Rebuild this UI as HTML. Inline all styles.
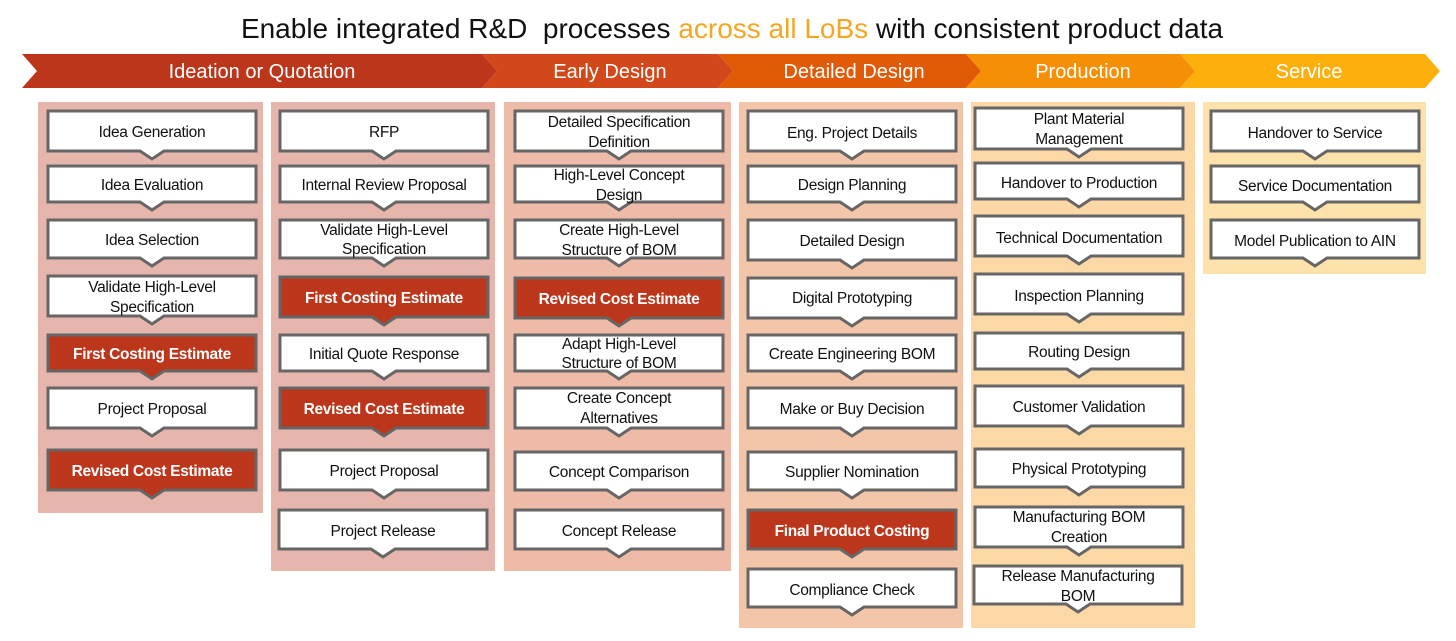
<!DOCTYPE html>
<html><head><meta charset="utf-8"><style>
html,body{margin:0;padding:0;background:#fff;width:1456px;height:641px;overflow:hidden}
svg{display:block}
text{font-family:"Liberation Sans",Arial,sans-serif}
.b{fill:#fff;stroke:#666;stroke-width:3}
.r{fill:#bb361b;stroke:#666;stroke-width:3}
.t{font-size:15.5px;fill:#111;text-anchor:middle;letter-spacing:-0.3px}
.w{font-size:15.5px;fill:#fff;font-weight:bold;text-anchor:middle;letter-spacing:-0.3px}
.h{font-size:20px;fill:#fff;text-anchor:middle}
</style></head><body>
<svg width="1456" height="641" viewBox="0 0 1456 641">
<text x="732" y="38" font-size="28" text-anchor="middle" fill="#111">Enable integrated R&amp;D&#160; processes <tspan fill="#f5a623">across all LoBs</tspan> with consistent product data</text>
<!-- banner -->
<polygon points="22,54 482,54 497,71 482,88 22,88 37,71" fill="#bb361b"/>
<polygon points="482,54 718,54 733,71 718,88 482,88 497,71" fill="#d2481a"/>
<polygon points="718,54 966,54 981,71 966,88 718,88 733,71" fill="#e15a07"/>
<polygon points="966,54 1180,54 1195,71 1180,88 966,88 981,71" fill="#f58f06"/>
<polygon points="1180,54 1425,54 1440,71 1425,88 1180,88 1195,71" fill="#fdb00c"/>
<text class="h" x="262" y="78">Ideation or Quotation</text>
<text class="h" x="610" y="78">Early Design</text>
<text class="h" x="854" y="78">Detailed Design</text>
<text class="h" x="1083" y="78">Production</text>
<text class="h" x="1309" y="78">Service</text>
<!-- panels -->
<rect x="38" y="102" width="225" height="411" fill="#e6b6ad"/>
<rect x="271" y="102" width="224" height="469" fill="#e6b6ad"/>
<rect x="504" y="102" width="227" height="469" fill="#eebba8"/>
<rect x="739" y="102" width="224" height="526" fill="#f4c6a9"/>
<rect x="971" y="102" width="224" height="526" fill="#fcd8a7"/>
<rect x="1203" y="102" width="223" height="172" fill="#fde2ac"/>

<!-- col1 -->
<path class="b" d="M48,111 h208 v40 h-92 l-12,8 l-12,-8 h-92 z"/><text class="t" x="152" y="137">Idea Generation</text>
<path class="b" d="M48,166 h208 v36 h-92 l-12,8 l-12,-8 h-92 z"/><text class="t" x="152" y="190">Idea Evaluation</text>
<path class="b" d="M48,220 h208 v38 h-92 l-12,8 l-12,-8 h-92 z"/><text class="t" x="152" y="245">Idea Selection</text>
<path class="b" d="M48,276 h208 v40 h-92 l-12,8 l-12,-8 h-92 z"/><text class="t" x="152" y="292">Validate High-Level</text><text class="t" x="152" y="312">Specification</text>
<path class="r" d="M48,335 h208 v36 h-92 l-12,8 l-12,-8 h-92 z"/><text class="w" x="152" y="359">First Costing Estimate</text>
<path class="b" d="M48,388 h208 v40 h-92 l-12,8 l-12,-8 h-92 z"/><text class="t" x="152" y="414">Project Proposal</text>
<path class="r" d="M48,450 h208 v40 h-92 l-12,8 l-12,-8 h-92 z"/><text class="w" x="152" y="476">Revised Cost Estimate</text>

<!-- col2 -->
<path class="b" d="M280,111 h208 v40 h-92 l-12,8 l-12,-8 h-92 z"/><text class="t" x="384" y="137">RFP</text>
<path class="b" d="M280,166 h208 v36 h-92 l-12,8 l-12,-8 h-92 z"/><text class="t" x="384" y="190">Internal Review Proposal</text>
<path class="b" d="M280,220 h208 v38 h-92 l-12,8 l-12,-8 h-92 z"/><text class="t" x="384" y="235">Validate High-Level</text><text class="t" x="384" y="254">Specification</text>
<path class="r" d="M280,277 h208 v40 h-92 l-12,8 l-12,-8 h-92 z"/><text class="w" x="384" y="303">First Costing Estimate</text>
<path class="b" d="M280,335 h208 v36 h-92 l-12,8 l-12,-8 h-92 z"/><text class="t" x="384" y="359">Initial Quote Response</text>
<path class="r" d="M280,388 h208 v40 h-92 l-12,8 l-12,-8 h-92 z"/><text class="w" x="384" y="414">Revised Cost Estimate</text>
<path class="b" d="M280,450 h208 v40 h-92 l-12,8 l-12,-8 h-92 z"/><text class="t" x="384" y="476">Project Proposal</text>
<path class="b" d="M279,510 h208 v39 h-92 l-12,8 l-12,-8 h-92 z"/><text class="t" x="383" y="536">Project Release</text>

<!-- col3 -->
<path class="b" d="M515,111 h208 v40 h-92 l-12,8 l-12,-8 h-92 z"/><text class="t" x="619" y="127">Detailed Specification</text><text class="t" x="619" y="147">Definition</text>
<path class="b" d="M515,166 h208 v36 h-92 l-12,8 l-12,-8 h-92 z"/><text class="t" x="619" y="180">High-Level Concept</text><text class="t" x="619" y="200">Design</text>
<path class="b" d="M515,220 h208 v38 h-92 l-12,8 l-12,-8 h-92 z"/><text class="t" x="619" y="235">Create High-Level</text><text class="t" x="619" y="255">Structure of BOM</text>
<path class="r" d="M515,278 h208 v40 h-92 l-12,8 l-12,-8 h-92 z"/><text class="w" x="619" y="304">Revised Cost Estimate</text>
<path class="b" d="M515,335 h208 v36 h-92 l-12,8 l-12,-8 h-92 z"/><text class="t" x="619" y="349">Adapt High-Level</text><text class="t" x="619" y="368">Structure of BOM</text>
<path class="b" d="M515,388 h208 v40 h-92 l-12,8 l-12,-8 h-92 z"/><text class="t" x="619" y="403">Create Concept</text><text class="t" x="619" y="423">Alternatives</text>
<path class="b" d="M515,452 h208 v38 h-92 l-12,8 l-12,-8 h-92 z"/><text class="t" x="619" y="477">Concept Comparison</text>
<path class="b" d="M515,510 h208 v39 h-92 l-12,8 l-12,-8 h-92 z"/><text class="t" x="619" y="536">Concept Release</text>

<!-- col4 -->
<path class="b" d="M748,111 h208 v40 h-92 l-12,8 l-12,-8 h-92 z"/><text class="t" x="852" y="138">Eng. Project Details</text>
<path class="b" d="M748,166 h208 v36 h-92 l-12,8 l-12,-8 h-92 z"/><text class="t" x="852" y="190">Design Planning</text>
<path class="b" d="M748,220 h208 v40 h-92 l-12,8 l-12,-8 h-92 z"/><text class="t" x="852" y="246">Detailed Design</text>
<path class="b" d="M748,278 h208 v40 h-92 l-12,8 l-12,-8 h-92 z"/><text class="t" x="852" y="303">Digital Prototyping</text>
<path class="b" d="M748,335 h208 v36 h-92 l-12,8 l-12,-8 h-92 z"/><text class="t" x="852" y="359">Create Engineering BOM</text>
<path class="b" d="M748,388 h208 v40 h-92 l-12,8 l-12,-8 h-92 z"/><text class="t" x="852" y="414">Make or Buy Decision</text>
<path class="b" d="M748,452 h208 v38 h-92 l-12,8 l-12,-8 h-92 z"/><text class="t" x="852" y="477">Supplier Nomination</text>
<path class="r" d="M748,510 h208 v39 h-92 l-12,8 l-12,-8 h-92 z"/><text class="w" x="852" y="536">Final Product Costing</text>
<path class="b" d="M748,569 h208 v38 h-92 l-12,8 l-12,-8 h-92 z"/><text class="t" x="852" y="595">Compliance Check</text>

<!-- col5 -->
<path class="b" d="M975,108 h208 v41 h-92 l-12,8 l-12,-8 h-92 z"/><text class="t" x="1079" y="124">Plant Material</text><text class="t" x="1079" y="144">Management</text>
<path class="b" d="M975,163 h208 v36 h-92 l-12,8 l-12,-8 h-92 z"/><text class="t" x="1079" y="188">Handover to Production</text>
<path class="b" d="M975,216 h208 v40 h-92 l-12,8 l-12,-8 h-92 z"/><text class="t" x="1079" y="243">Technical Documentation</text>
<path class="b" d="M975,274 h208 v40 h-92 l-12,8 l-12,-8 h-92 z"/><text class="t" x="1079" y="301">Inspection Planning</text>
<path class="b" d="M975,333 h208 v36 h-92 l-12,8 l-12,-8 h-92 z"/><text class="t" x="1079" y="357">Routing Design</text>
<path class="b" d="M975,386 h208 v40 h-92 l-12,8 l-12,-8 h-92 z"/><text class="t" x="1079" y="412">Customer Validation</text>
<path class="b" d="M975,449 h208 v38 h-92 l-12,8 l-12,-8 h-92 z"/><text class="t" x="1079" y="474">Physical Prototyping</text>
<path class="b" d="M975,507 h208 v40 h-92 l-12,8 l-12,-8 h-92 z"/><text class="t" x="1079" y="522">Manufacturing BOM</text><text class="t" x="1079" y="542">Creation</text>
<path class="b" d="M974,566 h208 v38 h-92 l-12,8 l-12,-8 h-92 z"/><text class="t" x="1078" y="581">Release Manufacturing</text><text class="t" x="1078" y="601">BOM</text>

<!-- col6 -->
<path class="b" d="M1211,111 h208 v40 h-92 l-12,8 l-12,-8 h-92 z"/><text class="t" x="1315" y="138">Handover to Service</text>
<path class="b" d="M1211,166 h208 v36 h-92 l-12,8 l-12,-8 h-92 z"/><text class="t" x="1315" y="191">Service Documentation</text>
<path class="b" d="M1211,220 h208 v38 h-92 l-12,8 l-12,-8 h-92 z"/><text class="t" x="1315" y="246">Model Publication to AIN</text>
</svg>
</body></html>
